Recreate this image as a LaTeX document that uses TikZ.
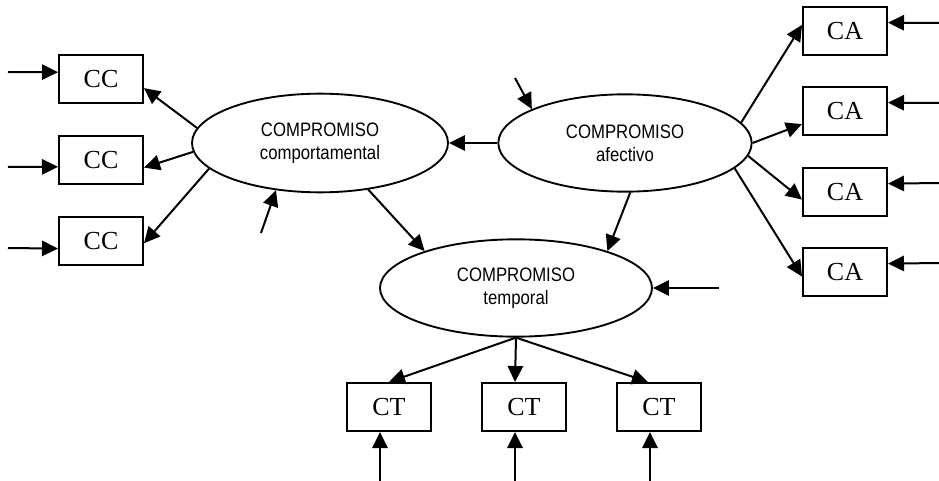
\documentclass[tikz,border=0pt]{standalone}
\usepackage{fontspec}
\setmainfont{Liberation Serif}
\setsansfont[FakeStretch=0.86]{Liberation Sans}
\usetikzlibrary{shapes.geometric,arrows.meta,positioning,calc}

\begin{document}
\begin{tikzpicture}[x=0.75pt,y=-0.75pt,
    box/.style={draw,line width=1.5pt,minimum width=63pt,minimum height=36pt,inner sep=0pt,
      font=\fontsize{19.5}{20}\selectfont},
    factor/.style={draw,ellipse,line width=1.4pt,inner sep=0pt,align=center,
      font=\sffamily\fontsize{14.6}{17.3}\selectfont},
    arr/.style={-{Triangle[length=12pt,width=11.5pt]},line width=1.5pt}]
    \useasboundingbox (0,0) rectangle (939,481);

    % Factors
    \node[factor,minimum width=192pt,minimum height=74pt] (comp) at (320,143) {COMPROMISO\\comportamental};
    \node[factor,minimum width=190pt,minimum height=73pt] (afec) at (625,143) {COMPROMISO\\afectivo};
    \node[factor,minimum width=204pt,minimum height=73pt] (temp) at (516,288) {COMPROMISO\\temporal};

    % Indicators
    \foreach \i/\y in {1/79, 2/160, 3/241} {
        \node[box] (cc\i) at (101,\y) {CC};
    }
    \foreach \i/\y in {1/31, 2/111, 3/192, 4/272} {
        \node[box] (ca\i) at (845,\y) {CA};
    }
    \foreach \i/\x in {1/389, 2/524, 3/659} {
        \node[box] (ct\i) at (\x,407) {CT};
    }

    % Loadings
    \draw[arr] (comp.173) -- (cc1.348);
    \draw[arr] (comp.184) -- (cc2.350);
    \draw[arr] (comp.193) -- (cc3.357);
    \draw[arr] (afec.10) -- (ca1.172);
    \draw[arr] (afec.0) -- (ca2.197);
    \draw[arr] (afec.354) -- (ca3.190);
    \draw[arr] (afec.347) -- (ca4.186);
    \draw[arr] (temp.south) -- (ct1.north);
    \draw[arr] (temp.south) -- ($(ct2.north)+(-9,0)$);
    \draw[arr] (temp.south) -- ($(ct3.north)+(-11,0)$);

    % Paths between factors
    \draw[arr] (afec.west) -- (comp.east);
    \draw[arr] (comp.316) -- (temp.158);
    \draw[arr] (afec.276) -- (temp.22);

    % Errors
    \foreach \i/\a/\y in {1/171/72, 2/189/167, 3/190/248} {
        \coordinate (ecc\i) at (8,\y);
        \draw[arr] (ecc\i) -- (cc\i.\a);
    }
    \foreach \i/\y in {1/23, 2/103, 3/183, 4/263} {
        \coordinate (eca\i) at (939,\y);
        \draw[arr] (eca\i) -- (ca\i.11);
    }
    \foreach \i/\x in {1/380, 2/515, 3/650} {
        \coordinate (ect\i) at (\x,481);
        \draw[arr] (ect\i) -- (ect\i |- ct\i.south);
    }
    \coordinate (ecomp) at (261,233);
    \coordinate (eafec) at (515,78);
    \coordinate (etemp) at (719,288);
    \draw[arr] (ecomp) -- (comp.227);
    \draw[arr] (eafec) -- (afec.160);
    \draw[arr] (etemp) -- (temp.east);
\end{tikzpicture}
\end{document}
